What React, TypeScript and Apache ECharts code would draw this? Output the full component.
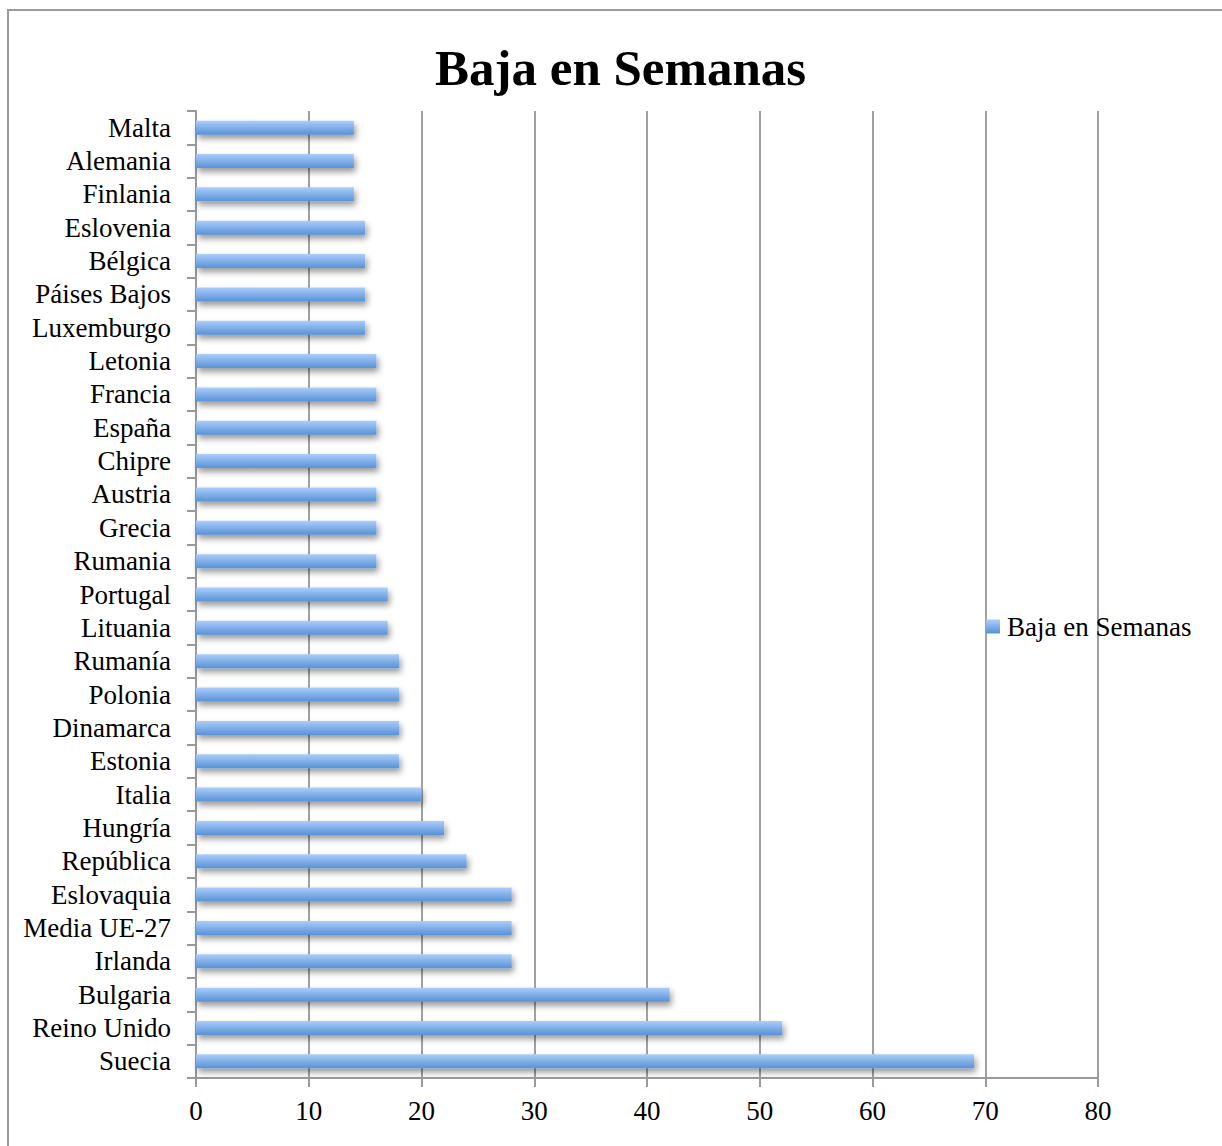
import React, { useEffect, useRef } from "react";
import * as echarts from "echarts";

const categories = [
  "Malta", "Alemania", "Finlania", "Eslovenia", "Bélgica", "Páises Bajos", "Luxemburgo",
  "Letonia", "Francia", "España", "Chipre", "Austria", "Grecia", "Rumania", "Portugal",
  "Lituania", "Rumanía", "Polonia", "Dinamarca", "Estonia", "Italia", "Hungría", "República",
  "Eslovaquia", "Media UE-27", "Irlanda", "Bulgaria", "Reino Unido", "Suecia",
];
const values = [
  14, 14, 14, 15, 15, 15, 15,
  16, 16, 16, 16, 16, 16, 16, 17,
  17, 18, 18, 18, 18, 20, 22, 24,
  28, 28, 28, 42, 52, 69,
];
const seriesName = "Baja en Semanas";
const titleText = "Baja en Semanas";

const FONT = "'Liberation Serif', 'Times New Roman', serif";

export default function App() {
  const ref = useRef<HTMLDivElement>(null);
  useEffect(() => {
    if (!ref.current) return;
    const chart = echarts.init(ref.current, undefined, { renderer: "svg" });
    const gradient = new echarts.graphic.LinearGradient(0, 0, 0, 1, [
      { offset: 0, color: "#abcdfb" },
      { offset: 1, color: "#5892d6" },
    ]);
    chart.setOption({
      animation: false,
      backgroundColor: "#ffffff",
      textStyle: { fontFamily: FONT },
      graphic: [
        {
          type: "rect",
          shape: { x: 8, y: 10, width: 1220, height: 1140 },
          style: { fill: "none", stroke: "#9a9a9a", lineWidth: 2 },
          z: -1,
        },
      ],
      title: {
        text: titleText,
        left: 435,
        top: 42,
        padding: 0,
        textStyle: { fontFamily: FONT, fontSize: 51, fontWeight: "bold", color: "#000" },
      },
      legend: {
        data: [seriesName],
        orient: "vertical",
        left: 986,
        top: 613,
        padding: 0,
        itemWidth: 14,
        itemHeight: 14,
        icon: "rect",
        textStyle: { fontFamily: FONT, fontSize: 27, color: "#000", padding: [0, 0, 0, 2] },
      },
      grid: { left: 196, right: 124, top: 111, bottom: 68, containLabel: false },
      xAxis: {
        type: "value",
        min: 0,
        max: 80,
        interval: 10,
        axisLine: { show: true, lineStyle: { color: "#999", width: 2 } },
        axisTick: { show: true, length: 9, lineStyle: { color: "#999", width: 2 } },
        axisLabel: { fontFamily: FONT, fontSize: 27, color: "#000", margin: 19 },
        splitLine: { show: true, lineStyle: { color: "#a0a0a0", width: 2 } },
      },
      yAxis: {
        type: "category",
        data: categories,
        inverse: true,
        axisLine: { show: true, lineStyle: { color: "#999", width: 2 } },
        axisTick: { show: true, length: 9, interval: 0, lineStyle: { color: "#999", width: 2 } },
        axisLabel: { interval: 0, fontFamily: FONT, fontSize: 27, color: "#000", margin: 25 },
        splitLine: { show: false },
      },
      series: [
        {
          name: seriesName,
          type: "bar",
          data: values,
          barWidth: 14,
          itemStyle: {
            color: gradient,
            shadowColor: "rgba(0,0,0,0.4)",
            shadowBlur: 6,
            shadowOffsetX: 2,
            shadowOffsetY: 4,
          },
        },
      ],
    });
    return () => chart.dispose();
  }, []);
  return (
    <div
      ref={ref}
      style={{ position: "absolute", left: 0, top: 0, width: 1222, height: 1146 }}
    />
  );
}
